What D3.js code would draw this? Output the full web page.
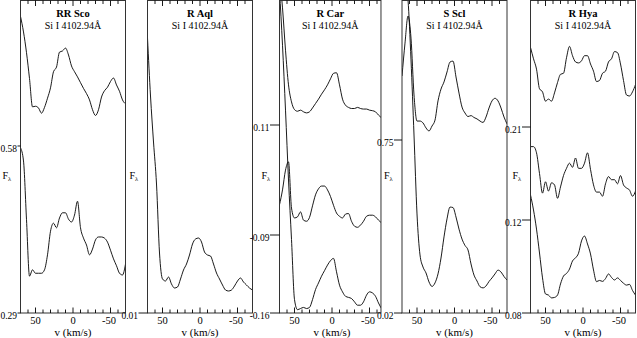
<!DOCTYPE html>
<html>
<head>
<meta charset="utf-8">
<script src="https://cdn.jsdelivr.net/npm/d3@7"></script>
<style>
  body { margin: 0; background: #fff; }
  svg { display: block; }
  text { font-family: "Liberation Serif", "DejaVu Serif", serif; fill: #000; }
</style>
</head>
<body>
<svg id="chart" width="637" height="338"></svg>
<script>
// velocity grid (km/s), shared by every spectrum
const velocity = [70, 66, 62, 58, 54, 50, 46, 42, 38, 34, 30, 26, 22, 18, 14, 10, 6, 2,
  -2, -6, -10, -14, -18, -22, -26, -30, -34, -38, -42, -46, -50, -54, -58, -62, -66, -70]
const velTicks = [60, 50, 40, 30, 20, 10, 0, -10, -20, -30, -40, -50, -60]
const velLabels = [50, 0, -50]

// RR Sco
const rrScoUpper = [0.805, 0.778, 0.742, 0.697, 0.648, 0.649, 0.646, 0.637, 0.647, 0.663, 0.681, 0.709,
  0.717, 0.743, 0.745, 0.750, 0.738, 0.719, 0.709, 0.700, 0.690, 0.680, 0.671, 0.660,
  0.643, 0.633, 0.643, 0.665, 0.676, 0.682, 0.692, 0.698, 0.686, 0.675, 0.660, 0.653]
const rrScoLower = [0.577, 0.554, 0.452, 0.354, 0.365, 0.359, 0.359, 0.359, 0.365, 0.391, 0.432, 0.446,
  0.438, 0.455, 0.464, 0.464, 0.453, 0.448, 0.460, 0.484, 0.438, 0.420, 0.408, 0.391,
  0.401, 0.417, 0.422, 0.422, 0.420, 0.413, 0.399, 0.384, 0.372, 0.359, 0.356, 0.375]
const rrScoTicks = [0.29, 0.58]

// R Aql
const rAqlFlux = [0.285, 0.227, 0.181, 0.139, 0.070, 0.044, 0.042, 0.046, 0.039, 0.035, 0.036, 0.044,
  0.053, 0.059, 0.068, 0.079, 0.084, 0.085, 0.081, 0.071, 0.068, 0.067, 0.059, 0.050,
  0.044, 0.038, 0.033, 0.032, 0.033, 0.037, 0.042, 0.045, 0.041, 0.038, 0.035, 0.033]
const rAqlTicks = [0.01]

// R Car
const rCarUpper = [0.383, 0.323, 0.246, 0.183, 0.152, 0.138, 0.135, 0.137, 0.134, 0.132, 0.134, 0.141,
  0.149, 0.157, 0.166, 0.174, 0.183, 0.194, 0.204, 0.205, 0.183, 0.157, 0.146, 0.142,
  0.140, 0.140, 0.142, 0.140, 0.139, 0.139, 0.137, 0.136, 0.134, 0.128, 0.123, 0.117]
const rCarMiddle = [-0.035, -0.008, 0.028, 0.043, -0.041, -0.059, -0.057, -0.048, -0.063, -0.065, -0.058, -0.037,
  -0.017, -0.006, -0.001, -0.001, -0.008, -0.020, -0.036, -0.050, -0.056, -0.059, -0.052, -0.051,
  -0.065, -0.074, -0.076, -0.072, -0.065, -0.056, -0.054, -0.054, -0.057, -0.063, -0.068, -0.074]
const rCarLower = [0.355, 0.255, 0.137, 0.010, -0.094, -0.148, -0.157, -0.156, -0.155, -0.156, -0.155, -0.148,
  -0.139, -0.133, -0.127, -0.122, -0.117, -0.113, -0.111, -0.123, -0.135, -0.141, -0.145, -0.146,
  -0.147, -0.150, -0.153, -0.153, -0.150, -0.144, -0.141, -0.142, -0.145, -0.151, -0.156, -0.159]
const rCarTicks = [-0.16, -0.09, 0.11]

// S Scl
const sSclUpper = [1.020, 1.159, 1.273, 1.180, 0.940, 0.830, 0.830, 0.822, 0.801, 0.788, 0.809, 0.834,
  0.915, 0.965, 0.995, 1.037, 1.079, 1.083, 1.016, 0.948, 0.889, 0.864, 0.849, 0.853,
  0.845, 0.839, 0.830, 0.824, 0.847, 0.885, 0.915, 0.926, 0.915, 0.885, 0.847, 0.818]
const sSclLower = [1.510, 1.425, 1.341, 1.088, 0.771, 0.438, 0.265, 0.214, 0.189, 0.151, 0.132, 0.147,
  0.185, 0.252, 0.341, 0.417, 0.467, 0.465, 0.425, 0.374, 0.332, 0.305, 0.286, 0.227,
  0.180, 0.155, 0.131, 0.126, 0.134, 0.153, 0.168, 0.185, 0.201, 0.193, 0.174, 0.159]
const sSclTicks = [0.02, 0.75]

// R Hya
const rHyaUpper = [0.287, 0.276, 0.266, 0.247, 0.244, 0.235, 0.237, 0.235, 0.243, 0.253, 0.261, 0.262,
  0.277, 0.288, 0.279, 0.273, 0.272, 0.274, 0.279, 0.279, 0.271, 0.264, 0.254, 0.255,
  0.262, 0.264, 0.273, 0.276, 0.283, 0.282, 0.271, 0.255, 0.241, 0.240, 0.244, 0.251]
const rHyaMiddle = [0.191, 0.191, 0.185, 0.165, 0.146, 0.157, 0.148, 0.156, 0.154, 0.141, 0.152, 0.163,
  0.170, 0.175, 0.171, 0.180, 0.170, 0.170, 0.175, 0.185, 0.169, 0.154, 0.147, 0.147,
  0.143, 0.155, 0.162, 0.159, 0.159, 0.155, 0.163, 0.154, 0.151, 0.149, 0.143, 0.148]
const rHyaLower = [0.1442, 0.1297, 0.1161, 0.1058, 0.0951, 0.0882, 0.0877, 0.0865, 0.0867, 0.0877, 0.0925, 0.0959,
  0.0970, 0.0989, 0.1024, 0.1037, 0.1057, 0.1110, 0.1131, 0.1097, 0.1054, 0.0985, 0.0935, 0.0940,
  0.0936, 0.0948, 0.0968, 0.0953, 0.0942, 0.0951, 0.0940, 0.0928, 0.0920, 0.0923, 0.0897, 0.0877]
const rHyaTicks = [0.08, 0.12, 0.21]

const lineName = 'Si I 4102.94Å'

const plotTop = 0.5
const plotBottom = 313
const pxPerKms = 0.75

const panels = [
  { star: 'RR Sco', spectra: [rrScoUpper, rrScoLower], ticks: rrScoTicks,
    yDomain: [0.29, 0.8335], yRange: [plotBottom, 0], left: 20.5, vEnd: -70, gap: 3.5 },
  { star: 'R Aql', spectra: [rAqlFlux], ticks: rAqlTicks,
    yDomain: [0.01, 0.323], yRange: [plotBottom, 0], left: 147.5, vEnd: -70, gap: 9.5 },
  { star: 'R Car', spectra: [rCarUpper, rCarMiddle, rCarLower], ticks: rCarTicks,
    yDomain: [-0.16, -0.09, 0.11, 0.3373], yRange: [plotBottom, 235, 125, 0], left: 279.5, vEnd: -65.3, gap: 10 },
  { star: 'S Scl', spectra: [sSclUpper, sSclLower], ticks: sSclTicks,
    yDomain: [0.02, 1.3408], yRange: [plotBottom, 0], left: 402, vEnd: -70, gap: 8.5 },
  { star: 'R Hya', spectra: [rHyaUpper, rHyaMiddle, rHyaLower], ticks: rHyaTicks,
    yDomain: [0.08, 0.12, 0.21, 0.3329], yRange: [plotBottom, 220, 127, 0], left: 530.5, vEnd: -70, gap: 9 }
]

const svg = d3.select('#chart')

panels.forEach((p, pi) => {
  const right = p.left + (velocity[0] - p.vEnd) * pxPerKms
  const x = d3.scaleLinear().domain([velocity[0], p.vEnd]).range([p.left, right])
  const y = d3.scaleLinear().domain(p.yDomain).range(p.yRange)
  const mid = (p.left + right) / 2

  const g = svg.append('g')

  g.append('clipPath').attr('id', 'clip' + pi)
    .append('rect')
    .attr('x', p.left).attr('y', plotTop)
    .attr('width', right - p.left).attr('height', plotBottom - plotTop)

  // spectra
  const line = d3.line()
    .x((d, i) => x(velocity[i]))
    .y(d => y(d))
    .curve(d3.curveMonotoneX)

  g.append('g').attr('clip-path', `url(#clip${pi})`)
    .selectAll('path')
    .data(p.spectra)
    .join('path')
    .attr('d', line)
    .attr('fill', 'none')
    .attr('stroke', '#000')
    .attr('stroke-width', 0.9)

  // frame
  g.append('rect')
    .attr('x', p.left).attr('y', plotTop)
    .attr('width', right - p.left).attr('height', plotBottom - plotTop)
    .attr('fill', 'none')
    .attr('stroke', '#333')
    .attr('stroke-width', 1)

  // velocity ticks, top and bottom, pointing inward
  const tickLen = v => velLabels.includes(v) ? 5.5 : 3.5
  g.selectAll('.tb').data(velTicks).join('line')
    .attr('x1', d => x(d)).attr('x2', d => x(d))
    .attr('y1', plotBottom).attr('y2', d => plotBottom - tickLen(d))
    .attr('stroke', '#000').attr('stroke-width', 0.9)
  g.selectAll('.tt').data(velTicks).join('line')
    .attr('x1', d => x(d)).attr('x2', d => x(d))
    .attr('y1', plotTop).attr('y2', d => plotTop + tickLen(d))
    .attr('stroke', '#000').attr('stroke-width', 0.9)

  g.selectAll('.vl').data(velLabels).join('text')
    .attr('x', d => x(d) + (d < 0 ? -1.5 : 0))
    .attr('y', 324)
    .attr('text-anchor', 'middle')
    .style('font-size', '10.5px')
    .text(d => String(d))

  g.append('text')
    .attr('x', x(0))
    .attr('y', 335.5)
    .attr('text-anchor', 'middle')
    .style('font-size', '11px')
    .text('v (km/s)')

  // flux ticks, pointing outward
  g.selectAll('.ft').data(p.ticks).join('line')
    .attr('x1', p.left - p.gap + 0.5).attr('x2', p.left)
    .attr('y1', d => y(d)).attr('y2', d => y(d))
    .attr('stroke', '#000').attr('stroke-width', 0.9)
  g.selectAll('.fl').data(p.ticks).join('text')
    .attr('x', p.left - p.gap)
    .attr('y', d => y(d) + 6)
    .attr('text-anchor', 'end')
    .style('font-size', '9.5px')
    .text(d => d.toFixed(2))

  const fl = g.append('text')
    .attr('x', p.left - 18)
    .attr('y', 179)
    .style('font-size', '10px')
  fl.append('tspan').text('F')
  fl.append('tspan').attr('dy', 2).style('font-size', '6.5px').text('λ')

  // titles
  g.append('text')
    .attr('x', mid).attr('y', 16.5)
    .attr('text-anchor', 'middle')
    .style('font-size', '10.5px')
    .style('font-weight', 'bold')
    .text(p.star)
  g.append('text')
    .attr('x', mid).attr('y', 28.5)
    .attr('text-anchor', 'middle')
    .style('font-size', '10px')
    .text(lineName)
})
</script>
</body>
</html>
